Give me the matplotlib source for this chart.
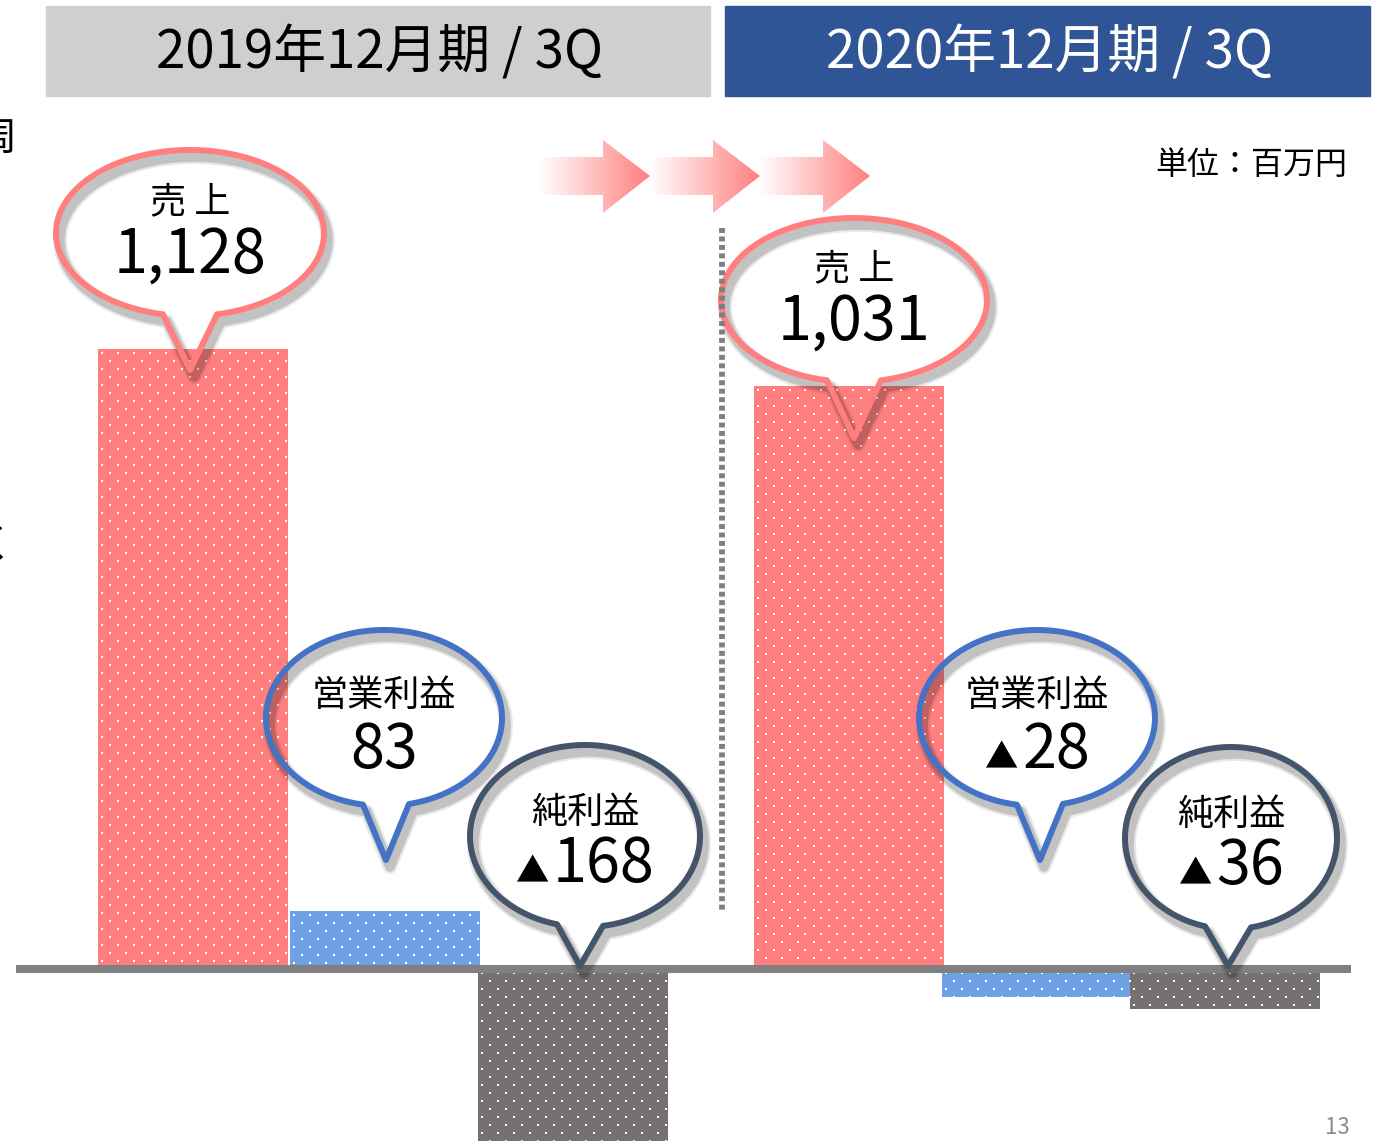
import numpy as np
import matplotlib.pyplot as plt
from matplotlib.patches import Rectangle, Polygon
from matplotlib.colors import LinearSegmentedColormap

plt.rcParams['font.family'] = ['Noto Sans CJK JP', 'DejaVu Sans']

periods = ['2019年12月期 / 3Q', '2020年12月期 / 3Q']
items = ['売 上', '営業利益', '純利益']
values_2019 = [1128, 83, -168]
values_2020 = [1031, -28, -36]
# bar heights as drawn on the slide (the slide is not to scale)
heights_2019 = [1128, 105, -330]
heights_2020 = [1061, -51, -73]
unit = '単位：百万円'
page = '13'

W, H = 1378, 1141
fig = plt.figure(figsize=(W / 100, H / 100), dpi=100)

# bar axes: x in bar slots of 190 px, y in millions of yen
ax = fig.add_axes([0, 0, 1, 1])
px_x = 190.0
px_y = 620 / 1128
x0 = 193     # pixel column of the first bar centre
base = 969   # pixel row of the zero line
ax.set_xlim(-x0 / px_x, (W - x0) / px_x)
ax.set_ylim(-(H - base) / px_y, base / px_y)
ax.axis('off')

xs = [0, 1.01, 2.0, 3.45, 4.44, 5.43]
heights = heights_2019 + heights_2020
colors = ['#FF7F7F', '#6FA1E5', '#767171'] * 2
ax.bar(xs, heights, width=1.0, color=colors, linewidth=0, zorder=2)

# white dot pattern inside every bar (rows 8 px apart, dots 16 px apart, staggered)
dx, dy = 16 / px_x, 8 / px_y
for x, h in zip(xs, heights):
    left = x - 0.5
    lo, hi = min(0, h), max(0, h)
    ys = np.arange(4 / px_y, hi - lo, dy)
    px, py = [], []
    for r, yy in enumerate(ys):
        cols = np.arange(left + 4 / px_x + (r % 2) * dx / 2, x + 0.5, dx)
        px.extend(cols)
        py.extend([hi - yy if h > 0 else -yy] * len(cols))
    ax.scatter(px, py, s=3, marker='s', color='white', linewidths=0, zorder=2.5)

ax.axhline(0, xmin=20 / W, xmax=1347 / W, color='#808080', lw=5.8, zorder=3)

# overlay in pixel coordinates for the slide decorations
ov = fig.add_axes([0, 0, 1, 1], zorder=5)
ov.axis('off')

ov.add_patch(Rectangle((46, 6), 664, 90, color='#D0CECE'))
ov.text(380, 53, periods[0], ha='center', va='center', fontsize=38, color='black')
ov.add_patch(Rectangle((725, 6), 645, 90, color='#2F5597'))
ov.text(1050, 53, periods[1], ha='center', va='center', fontsize=38, color='white')

ov.text(1347, 165, unit, ha='right', va='center', fontsize=23, color='black')
ov.text(1337, 1128, page, ha='center', va='center', fontsize=16, color='#8C8C8C')
ov.text(-3, 140, '周', ha='center', va='center', fontsize=28, color='black')
ov.text(-6, 545, 'く', ha='center', va='center', fontsize=28, color='black')

# gradient arrows
cmap = LinearSegmentedColormap.from_list('fade', ['#FFFFFF', '#FF7F7F'])
grad = np.linspace(0, 1, 256).reshape(1, -1)
for sx in [540, 650, 760]:
    pts = [(sx, 157), (sx + 63, 157), (sx + 63, 140), (sx + 110, 176),
           (sx + 63, 213), (sx + 63, 195), (sx, 195)]
    poly = Polygon(pts, closed=True, facecolor='none', edgecolor='none')
    ov.add_patch(poly)
    im = ov.imshow(grad, cmap=cmap, extent=(sx, sx + 110, 213, 140),
                   aspect='auto', zorder=2)
    im.set_clip_path(poly)

# dotted divider
ov.plot([722, 722], [228, 910], color='#7F7F7F', lw=4.2, ls=(0, (0.85, 0.6)))


def bubble(cx, cy, a, b, tip, half, color):
    tx, ty = tip

    def ang(x):
        u = np.clip((x - cx) / a, -1, 1)
        return np.arctan2(np.sqrt(1 - u ** 2), u)

    t = np.linspace(ang(tx - half), ang(tx + half) + 2 * np.pi, 240)
    pts = np.column_stack([cx + a * np.cos(t), cy + b * np.sin(t)])
    pts = np.vstack([pts, [tx, ty]])
    for lw, al in [(10, 0.09), (7, 0.16)]:
        ov.add_patch(Polygon(pts + [4, 7], closed=True, fill=False,
                             edgecolor=(0, 0, 0, al), lw=lw, joinstyle='round'))
    ov.add_patch(Polygon(pts, closed=True, fill=False, edgecolor=color,
                         lw=4.3, joinstyle='round'))


def fmt(v):
    return f'{abs(v):,}'


# bubble layout: centre, radii, tail tip, tail half width, outline colour
bubbles = [
    (190, 233, 134, 83, (190, 370), 27, '#FF7F7F'),
    (384, 718, 118, 88, (386, 860), 23, '#4472C4'),
    (585, 836, 115, 91, (580, 966), 23, '#44546A'),
    (854, 300, 133, 82, (854, 438), 27, '#FF7F7F'),
    (1037, 718, 118, 88, (1040, 860), 23, '#4472C4'),
    (1231, 838, 106, 91, (1228, 966), 23, '#44546A'),
]
label_dy = [-31, -22, -23]
number_dy = [41, 50, 46]
values = values_2019 + values_2020

for i, (cx, cy, a, b, tip, half, col) in enumerate(bubbles):
    bubble(cx, cy, a, b, tip, half, col)
    k = i % 3
    ov.text(cx, cy + label_dy[k], items[k], ha='center', va='center',
            fontsize=26, color='black')
    v = values[i]
    nx = cx + (19 if v < 0 else 0)
    num = ov.text(nx, cy + number_dy[k], fmt(v), ha='center', va='baseline',
                  fontsize=44, color='black')
    if v < 0:
        ov.annotate('▲', xy=(0, cy + number_dy[k]), xycoords=(num, 'data'),
                    xytext=(-3, 0), textcoords='offset points',
                    ha='right', va='baseline', fontsize=24, color='black')

ov.set_xlim(0, W)
ov.set_ylim(H, 0)

fig.savefig('out.png', dpi=100)
